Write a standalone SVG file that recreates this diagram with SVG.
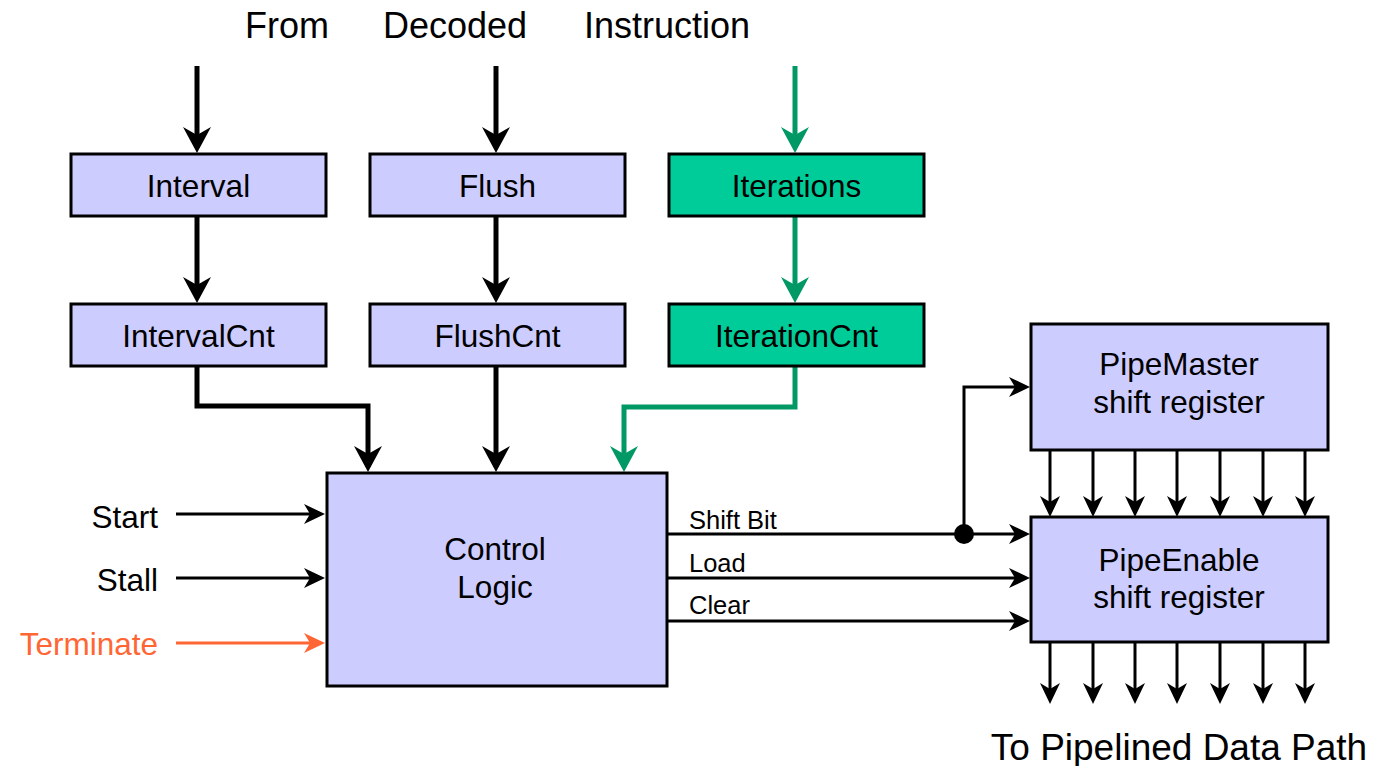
<svg xmlns="http://www.w3.org/2000/svg" width="1378" height="766" viewBox="0 0 1378 766">
  <style>
    .box { fill: #CCCCFF; stroke: #000; stroke-width: 3; }
    .gbox { fill: #00CC99; stroke: #000; stroke-width: 3; }
    .t { font-family: "Liberation Sans", Arial, sans-serif; fill: #000; }
    .lbl { font-size: 31.5px; text-anchor: middle; }
    .big { font-size: 36px; }
    .small { font-size: 25.5px; }
    .w { fill: none; stroke: #000; stroke-width: 5; }
    .wg { fill: none; stroke: #009966; stroke-width: 5; }
    .thin { fill: none; stroke: #000; stroke-width: 3; }
    .thin-o { fill: none; stroke: #FF6633; stroke-width: 3; }
  </style>
  <defs>
    <marker id="ahBig" markerUnits="userSpaceOnUse" viewBox="-20 -16 34 32" markerWidth="34" markerHeight="32" refX="0" refY="0" orient="auto">
      <path d="M10,0 L-16,-14 L-8,0 L-16,14 Z" fill="#000"/>
    </marker>
    <marker id="ahGreen" markerUnits="userSpaceOnUse" viewBox="-20 -16 34 32" markerWidth="34" markerHeight="32" refX="0" refY="0" orient="auto">
      <path d="M10,0 L-16,-14 L-8,0 L-16,14 Z" fill="#009966"/>
    </marker>
    <marker id="ahThin" markerUnits="userSpaceOnUse" viewBox="-16 -12 26 24" markerWidth="26" markerHeight="24" refX="0" refY="0" orient="auto">
      <path d="M6,0 L-15,-10 L-9,0 L-15,10 Z" fill="#000"/>
    </marker>
    <marker id="ahOrange" markerUnits="userSpaceOnUse" viewBox="-16 -12 26 24" markerWidth="26" markerHeight="24" refX="0" refY="0" orient="auto">
      <path d="M6,0 L-15,-10 L-9,0 L-15,10 Z" fill="#FF6633"/>
    </marker>
  </defs>

  <!-- heading -->
  <g id="heading" class="t big">
    <text x="245" y="38">From</text>
    <text x="383" y="38">Decoded</text>
    <text x="584" y="38">Instruction</text>
  </g>

  <!-- connectors -->
  <g id="connectors">
    <path class="w" d="M197,66 V143" marker-end="url(#ahBig)"/>
    <path class="w" d="M496,66 V143" marker-end="url(#ahBig)"/>
    <path class="wg" d="M795,66 V143" marker-end="url(#ahGreen)"/>

    <path class="w" d="M197,216 V293" marker-end="url(#ahBig)"/>
    <path class="w" d="M496,216 V293" marker-end="url(#ahBig)"/>
    <path class="wg" d="M795,216 V293" marker-end="url(#ahGreen)"/>

    <path class="w" d="M197,366 V406 H368 V462" marker-end="url(#ahBig)"/>
    <path class="w" d="M496,366 V462" marker-end="url(#ahBig)"/>
    <path class="wg" d="M795,366 V407 H624 V462" marker-end="url(#ahGreen)"/>

    <path class="thin" d="M176,514 H319" marker-end="url(#ahThin)"/>
    <path class="thin" d="M176,578 H319" marker-end="url(#ahThin)"/>
    <path class="thin-o" d="M176,643 H319" marker-end="url(#ahOrange)"/>

    <path class="thin" d="M667,534 H1024" marker-end="url(#ahThin)"/>
    <path class="thin" d="M964,534 V387 H1024" marker-end="url(#ahThin)"/>
    <circle cx="964" cy="534" r="10" fill="#000"/>
    <path class="thin" d="M667,578 H1024" marker-end="url(#ahThin)"/>
    <path class="thin" d="M667,621 H1024" marker-end="url(#ahThin)"/>

    <g id="master-to-enable">
      <path class="thin" d="M1050,450 V511" marker-end="url(#ahThin)"/>
      <path class="thin" d="M1093,450 V511" marker-end="url(#ahThin)"/>
      <path class="thin" d="M1135,450 V511" marker-end="url(#ahThin)"/>
      <path class="thin" d="M1177,450 V511" marker-end="url(#ahThin)"/>
      <path class="thin" d="M1220,450 V511" marker-end="url(#ahThin)"/>
      <path class="thin" d="M1263,450 V511" marker-end="url(#ahThin)"/>
      <path class="thin" d="M1305,450 V511" marker-end="url(#ahThin)"/>
    </g>
    <g id="enable-outputs">
      <path class="thin" d="M1050,642 V698" marker-end="url(#ahThin)"/>
      <path class="thin" d="M1093,642 V698" marker-end="url(#ahThin)"/>
      <path class="thin" d="M1135,642 V698" marker-end="url(#ahThin)"/>
      <path class="thin" d="M1177,642 V698" marker-end="url(#ahThin)"/>
      <path class="thin" d="M1220,642 V698" marker-end="url(#ahThin)"/>
      <path class="thin" d="M1263,642 V698" marker-end="url(#ahThin)"/>
      <path class="thin" d="M1305,642 V698" marker-end="url(#ahThin)"/>
    </g>

    <g class="t small">
      <text x="689" y="529">Shift Bit</text>
      <text x="689" y="572">Load</text>
      <text x="689" y="614">Clear</text>
    </g>
  </g>

  <!-- input labels -->
  <g id="inputs" class="t" font-size="31.5" text-anchor="end">
    <text x="158" y="528">Start</text>
    <text x="158" y="591">Stall</text>
    <text x="158" y="655" fill="#FF6633">Terminate</text>
  </g>

  <!-- nodes -->
  <g id="interval">
    <rect class="box" x="71" y="154" width="255" height="62"/>
    <text class="t lbl" x="198.5" y="197">Interval</text>
  </g>
  <g id="flush">
    <rect class="box" x="370" y="154" width="255" height="62"/>
    <text class="t lbl" x="497.5" y="197">Flush</text>
  </g>
  <g id="iterations">
    <rect class="gbox" x="669" y="154" width="255" height="62"/>
    <text class="t lbl" x="796.5" y="197">Iterations</text>
  </g>
  <g id="intervalcnt">
    <rect class="box" x="71" y="304" width="255" height="62"/>
    <text class="t lbl" x="198.5" y="347">IntervalCnt</text>
  </g>
  <g id="flushcnt">
    <rect class="box" x="370" y="304" width="255" height="62"/>
    <text class="t lbl" x="497.5" y="347">FlushCnt</text>
  </g>
  <g id="iterationcnt">
    <rect class="gbox" x="669" y="304" width="255" height="62"/>
    <text class="t lbl" x="796.5" y="347">IterationCnt</text>
  </g>
  <g id="control-logic">
    <rect class="box" x="327" y="473" width="340" height="213"/>
    <text class="t lbl" x="495" y="560">Control</text>
    <text class="t lbl" x="495" y="598">Logic</text>
  </g>
  <g id="pipemaster">
    <rect class="box" x="1031" y="324" width="297" height="126"/>
    <text class="t lbl" x="1179" y="375">PipeMaster</text>
    <text class="t lbl" x="1179" y="413">shift register</text>
  </g>
  <g id="pipeenable">
    <rect class="box" x="1031" y="517" width="297" height="125"/>
    <text class="t lbl" x="1179" y="571">PipeEnable</text>
    <text class="t lbl" x="1179" y="608">shift register</text>
  </g>

  <text id="footer" class="t" font-size="37" x="1179" y="760" text-anchor="middle">To Pipelined Data Path</text>
</svg>
